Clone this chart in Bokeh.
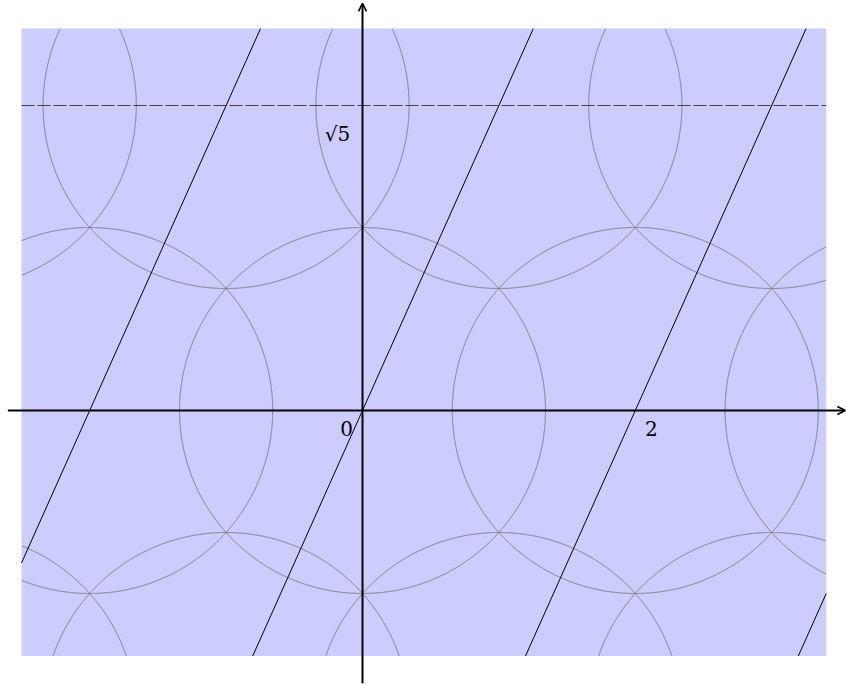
import numpy as np
from bokeh.plotting import figure
from bokeh.models import Range1d, Arrow, OpenHead
from bokeh.embed import file_html
from bokeh.resources import INLINE
from bokeh.core.properties import value

SQ5 = float(np.sqrt(5))

# ---- data ----
region_x = [-2.5, 3.4]
region_y = [-1.8, 2.8]
circle_cx = [-4, -2, 0, 2, 4, -3, -1, 1, 3, 5, -3, -1, 1, 3, 5]
circle_cy = [0, 0, 0, 0, 0, SQ5, SQ5, SQ5, SQ5, SQ5, -SQ5, -SQ5, -SQ5, -SQ5, -SQ5]
circle_r = 3 / SQ5
line_x0 = [-4, -2, 0, 2, 4]
line_slope = SQ5
dash_y = SQ5
axis_x = [-2.6, 3.54]
axis_y = [-2.0, 2.985]
xtick_vals = [0, 2]
xtick_labels = ["0", "2"]
ytick_vals = [SQ5]
ytick_labels = ["√5"]

# ---- layout ----
S = 136.4          # px per unit
W, H = 846, 684
x_start = -362 / S
y_end = 410 / S

p = figure(width=W, height=H, output_backend="svg", toolbar_location=None,
           x_range=Range1d(x_start, x_start + W / S),
           y_range=Range1d(y_end - H / S, y_end),
           min_border=0, x_axis_location=None, y_axis_location=None)
p.grid.visible = False
p.outline_line_color = None
p.background_fill_color = "white"
p.border_fill_color = "white"

xmin, xmax = region_x
ymin, ymax = region_y
p.quad(left=[xmin], right=[xmax], bottom=[ymin], top=[ymax],
       fill_color="#ccccff", line_color=None)

# circles clipped to the region
th = np.linspace(0, 2 * np.pi, 2881)
xs_c, ys_c = [], []
for cx, cy in zip(circle_cx, circle_cy):
    px = cx + circle_r * np.cos(th)
    py = cy + circle_r * np.sin(th)
    m = (px >= xmin) & (px <= xmax) & (py >= ymin) & (py <= ymax)
    idx = np.where(m)[0]
    if len(idx) == 0:
        continue
    runs = np.split(idx, np.where(np.diff(idx) > 1)[0] + 1)
    for r in runs:
        if len(r) > 1:
            xs_c.append(px[r].tolist())
            ys_c.append(py[r].tolist())
p.multi_line(xs_c, ys_c, line_color="#7a7a7a", line_width=1)

# slanted lines clipped to the region
xs_l, ys_l = [], []
for x0 in line_x0:
    ya = max(ymin, (xmin - x0) * line_slope)
    yb = min(ymax, (xmax - x0) * line_slope)
    if ya < yb:
        xs_l.append([x0 + ya / line_slope, x0 + yb / line_slope])
        ys_l.append([ya, yb])
p.multi_line(xs_l, ys_l, line_color="black", line_width=1)

# dashed horizontal line
p.line([xmin, xmax], [dash_y, dash_y], line_color="#404040", line_width=1,
       line_dash="13 3")

# axes with arrows
p.add_layout(Arrow(end=OpenHead(size=8, line_width=1.6, line_color="black"),
                   x_start=axis_x[0], y_start=0, x_end=axis_x[1], y_end=0,
                   line_width=2, line_color="black"))
p.add_layout(Arrow(end=OpenHead(size=8, line_width=1.6, line_color="black"),
                   x_start=0, y_start=axis_y[0], x_end=0, y_end=axis_y[1],
                   line_width=2, line_color="black"))

font = value("DejaVu Serif")
p.text(x=[v + 16 / S if v != 0 else v - 16 / S for v in xtick_vals],
       y=[-18 / S] * len(xtick_vals), text=xtick_labels,
       text_font=font, text_font_size="20px", text_color="black",
       text_align="center", text_baseline="middle")
p.text(x=[-25 / S] * len(ytick_vals), y=[v - 28 / S for v in ytick_vals],
       text=ytick_labels, text_font=font, text_font_size="20px",
       text_color="black", text_align="center", text_baseline="middle")

open("out.html", "w").write(file_html(p, INLINE))
